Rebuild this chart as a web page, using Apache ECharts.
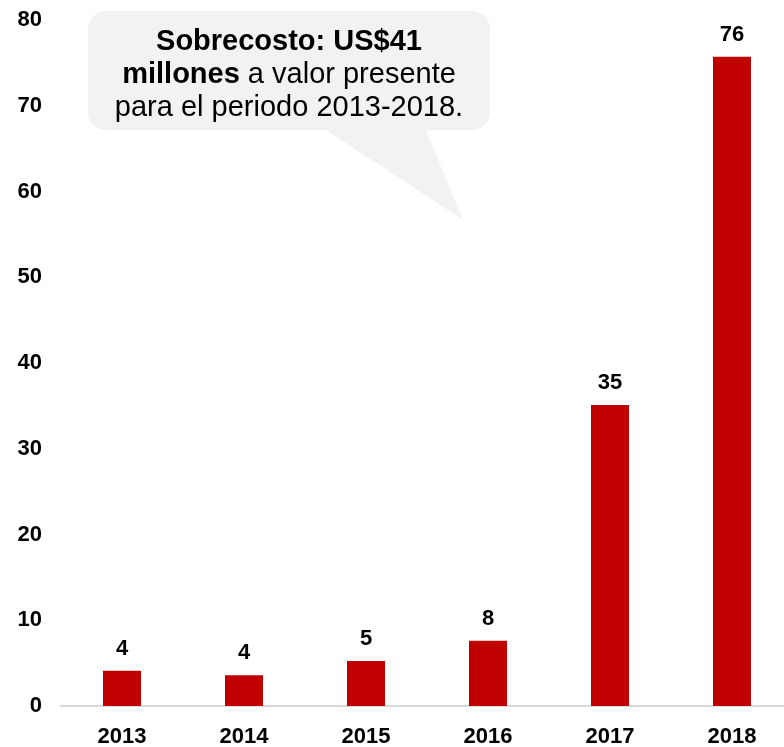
<!DOCTYPE html>
<html><head><meta charset="utf-8">
<script src="https://cdn.jsdelivr.net/npm/echarts@6/dist/echarts.min.js"></script>
<style>html,body{margin:0;padding:0;background:#fff}#c{width:784px;height:747px}</style>
</head><body><div id="c"></div>
<script>
var categories = ['2013','2014','2015','2016','2017','2018'];
var values = [4.1, 3.6, 5.25, 7.6, 35.1, 75.7];
var labels = ['4','4','5','8','35','76'];
var yTicks = [0,10,20,30,40,50,60,70,80];

var chart = echarts.init(document.getElementById('c'));
var font = 'Liberation Sans, Arial, sans-serif';
chart.setOption({
  animation:false,
  grid:{left:61, top:20, width:732, height:686, outerBoundsMode:'none'},
  xAxis:{type:'category', data:categories,
    axisLine:{lineStyle:{color:'#d9d9d9', width:2}}, axisTick:{show:false},
    axisLabel:{color:'#000', fontWeight:'bold', fontSize:22, fontFamily:font, margin:20}},
  yAxis:{type:'value', min:yTicks[0], max:yTicks[yTicks.length-1], interval:10,
    axisLine:{show:false}, axisTick:{show:false}, splitLine:{show:false},
    axisLabel:{color:'#000', fontWeight:'bold', fontSize:22, fontFamily:font, margin:19}},
  series:[{type:'bar', data:values, barWidth:38, itemStyle:{color:'#C00000'},
    label:{show:true, position:'top', distance:11, color:'#000', fontWeight:'bold', fontSize:22, fontFamily:font,
      formatter:function(p){return labels[p.dataIndex];}}}],
  graphic:[
    {type:'polygon', shape:{points:[[323,128],[425,128],[463,220]]}, style:{fill:'#f2f2f2'}, z:10},
    {type:'rect', shape:{x:88,y:11,width:402,height:119,r:18}, style:{fill:'#f2f2f2'}, z:10},
    {type:'text', z:11,
      style:{x:289, y:25, align:'center', verticalAlign:'top', lineHeight:33,
        text:'{b|Sobrecosto: US$41}\n{b|millones}{n| a valor presente}\n{n|para el periodo 2013-2018.}',
        rich:{b:{fontWeight:'bold', fontSize:29, fontFamily:font, fill:'#000', lineHeight:33},
              n:{fontSize:29, fontFamily:font, fill:'#000', lineHeight:33}}}}
  ]
});
</script></body></html>
